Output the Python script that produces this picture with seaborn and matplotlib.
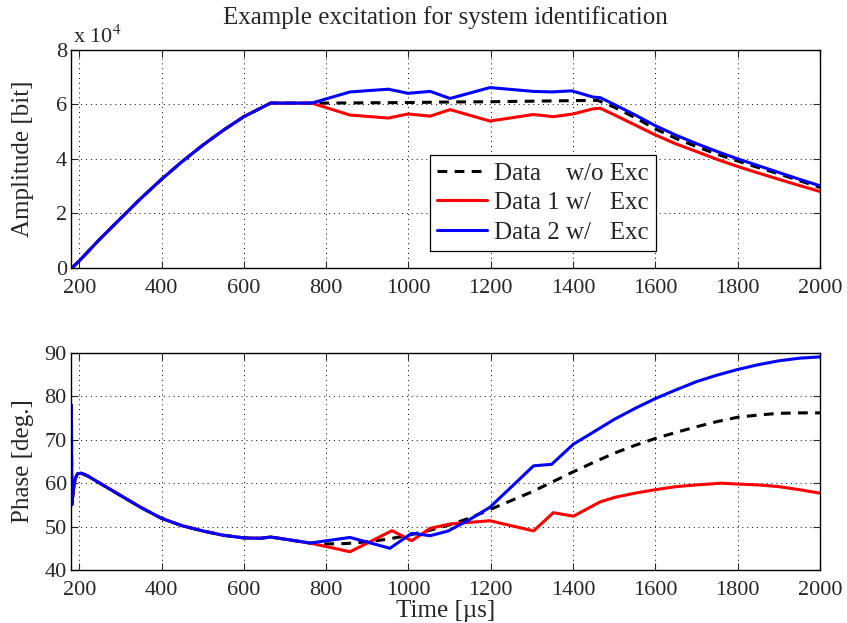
import numpy as np
import pandas as pd
import matplotlib
matplotlib.use("Agg")
import matplotlib.pyplot as plt
import seaborn as sns
from matplotlib.ticker import FuncFormatter

# ---------------- data ----------------
# common ramp (all three series identical here), amplitude in bit
common_amp_t = [183, 200, 250, 300, 350, 400, 450, 500, 550, 600, 665, 765]
common_amp_v = [0, 2500, 10500, 18000, 25500, 32500, 39000, 45000, 50500, 55500, 60500, 60500]

amp0_t = [800, 900, 1000, 1100, 1200, 1300, 1400, 1460, 1500, 1550, 1600, 1650, 1700,
          1750, 1800, 1850, 1900, 1950, 2000]
amp0_v = [60500, 60600, 60700, 60900, 61000, 61200, 61400, 61500, 59000, 55200, 51000,
          47500, 44500, 41700, 39200, 36800, 34500, 32000, 29500]

amp1_t = [858, 951, 999, 1053, 1101, 1198, 1303, 1352, 1400, 1449, 1466, 1500, 1550, 1600,
          1650, 1700, 1750, 1800, 1850, 1900, 1950, 2000]
amp1_v = [56100, 55000, 56500, 55700, 58100, 53900, 56300, 55500, 56500, 58400, 58600,
          56200, 52500, 48800, 45500, 42700, 39800, 37200, 34800, 32500, 30200, 28000]

amp2_t = [858, 951, 999, 1053, 1101, 1198, 1303, 1349, 1397, 1449, 1466, 1500, 1550, 1600,
          1650, 1700, 1750, 1800, 1850, 1900, 1950, 2000]
amp2_v = [64600, 65600, 64100, 64800, 62200, 66200, 64800, 64600, 65000, 62700, 62500,
          60000, 56200, 52200, 48700, 45600, 42700, 40000, 37500, 35000, 32500, 30100]

# common phase (deg)
common_ph_t = [181, 182, 186, 190, 196, 205, 220, 250, 300, 350, 400, 450, 500, 550, 600,
               640, 665, 700, 761]
common_ph_v = [78, 55, 58.5, 61, 62.2, 62.3, 61.7, 60.0, 57.2, 54.4, 51.9, 50.2, 49.0,
               48.0, 47.4, 47.3, 47.6, 47.1, 46.2]

ph0_t = [800, 850, 900, 950, 1000, 1050, 1100, 1150, 1200, 1250, 1300, 1350, 1400, 1450,
         1500, 1550, 1600, 1650, 1700, 1750, 1800, 1850, 1900, 1950, 2000]
ph0_v = [46.0, 46.1, 46.5, 47.1, 48.0, 49.1, 50.4, 52.0, 54.0, 56.0, 58.0, 60.3, 62.6,
         64.8, 66.9, 68.7, 70.3, 71.7, 73.0, 74.2, 75.2, 75.7, 76.1, 76.2, 76.2]

ph1_t = [800, 858, 960, 1008, 1053, 1101, 1198, 1304, 1352, 1401, 1466, 1502, 1550, 1600,
         1650, 1700, 1760, 1800, 1850, 1900, 1950, 2000]
ph1_v = [45.4, 44.2, 49.05, 46.75, 49.6, 50.6, 51.35, 49.0, 53.2, 52.4, 55.7, 56.75,
         57.7, 58.5, 59.2, 59.6, 60.0, 59.8, 59.6, 59.2, 58.5, 57.7]

ph2_t = [858, 955, 1008, 1053, 1097, 1150, 1198, 1304, 1348, 1401, 1450, 1500, 1550, 1600,
         1650, 1700, 1750, 1800, 1850, 1900, 1950, 2000]
ph2_v = [47.5, 45.0, 48.45, 47.9, 49.0, 51.7, 54.45, 64.0, 64.35, 69.0, 71.8, 74.7, 77.2,
         79.5, 81.5, 83.4, 84.9, 86.2, 87.3, 88.2, 88.8, 89.1]

labels = ["Data    w/o Exc", "Data 1 w/   Exc", "Data 2 w/   Exc"]
x_ticks = [200, 400, 600, 800, 1000, 1200, 1400, 1600, 1800, 2000]

# ---------------- style ----------------
sns.set_style("ticks")
plt.rcParams["font.family"] = ["Liberation Serif", "DejaVu Serif"]
plt.rcParams["mathtext.fontset"] = "stix"
plt.rcParams["font.size"] = 16
plt.rcParams["xtick.direction"] = "in"
plt.rcParams["ytick.direction"] = "in"
plt.rcParams["xtick.top"] = True
plt.rcParams["ytick.right"] = True
plt.rcParams["axes.linewidth"] = 1.0

TICK_FS = 16
LABEL_FS = 18

fig = plt.figure(figsize=(8.47, 6.23), dpi=100)
ax1 = fig.add_axes([0.0838, 0.5703, 0.8843, 0.3494])
ax2 = fig.add_axes([0.0838, 0.0851, 0.8843, 0.3483])

def series(t_common, v_common, t, v):
    return pd.DataFrame({"t": list(t_common) + list(t), "v": list(v_common) + list(v)})

lw = 2.2
dash = (3.2, 2.4)
cols = ["black", "#ff0000", "#0000ff"]

for ax, ct, cv, sets in [
    (ax1, common_amp_t, common_amp_v, [(amp0_t, amp0_v), (amp1_t, amp1_v), (amp2_t, amp2_v)]),
    (ax2, common_ph_t, common_ph_v, [(ph0_t, ph0_v), (ph1_t, ph1_v), (ph2_t, ph2_v)]),
]:
    for i, (t, v) in enumerate(sets):
        df = series(ct, cv, t, v)
        kw = dict(dashes=dash) if i == 0 else {}
        sns.lineplot(data=df, x="t", y="v", ax=ax, color=cols[i], lw=lw, sort=False,
                     estimator=None, label=labels[i], **kw)
    ax.set_xlim(180, 2000)
    ax.set_xticks(x_ticks)
    ax.grid(True, color="black", linestyle=(0, (1, 4)), linewidth=0.7)
    ax.tick_params(length=5, width=0.8, labelsize=TICK_FS)
    ax.tick_params(axis="x", pad=8)
    ax.tick_params(axis="y", pad=3)
    for s in ax.spines.values():
        s.set_color("black")

ax1.set_ylim(0, 80000)
ax1.set_yticks([0, 20000, 40000, 60000, 80000])
ax1.yaxis.set_major_formatter(FuncFormatter(lambda v, p: f"{v/1e4:g}"))
ax1.set_xlabel("")
ax1.set_ylabel("Amplitude [bit]", fontsize=LABEL_FS)
ax1.yaxis.set_label_coords(-0.050, 0.5)
ax1.text(0.003, 1.01, r"x 10$^{4}$", transform=ax1.transAxes, fontsize=TICK_FS,
         ha="left", va="bottom")
ax1.set_title("Example excitation for system identification", fontsize=LABEL_FS, pad=19)
leg = ax1.legend(loc="upper left", bbox_to_anchor=(0.479, 0.52), frameon=True,
                 fancybox=False, edgecolor="black", framealpha=1, fontsize=LABEL_FS,
                 handlelength=2.0, borderpad=0.3, labelspacing=0.28, handletextpad=0.25,
                 borderaxespad=0)
leg.get_frame().set_linewidth(0.9)

ax2.set_ylim(40, 90)
ax2.set_yticks([40, 50, 60, 70, 80, 90])
ax2.set_xlabel("Time [µs]", fontsize=LABEL_FS, labelpad=0)
ax2.set_ylabel("Phase [deg.]", fontsize=LABEL_FS)
ax2.yaxis.set_label_coords(-0.050, 0.5)
if ax2.get_legend() is not None:
    ax2.get_legend().remove()

fig.savefig("out.png", dpi=100)
